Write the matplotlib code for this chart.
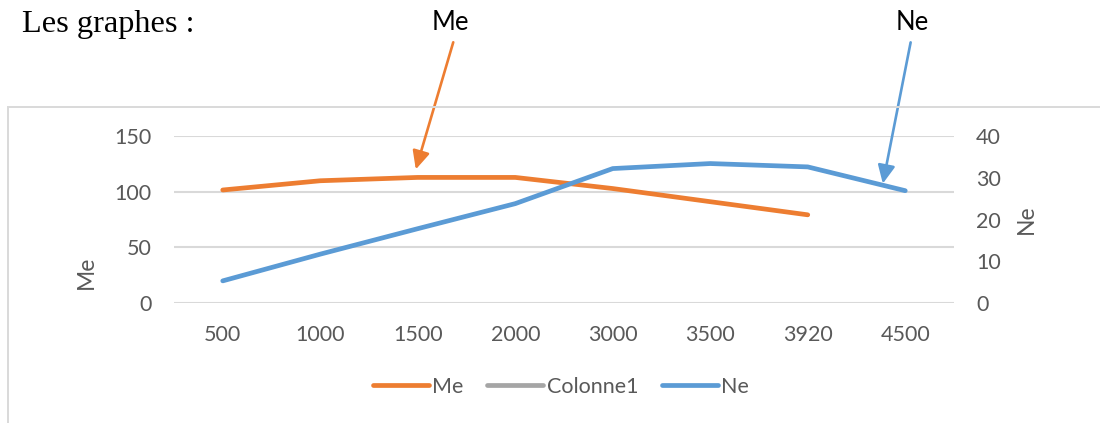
import matplotlib
matplotlib.use('Agg')
import matplotlib.pyplot as plt
from matplotlib.patches import Rectangle
import numpy as np

W, H = 1100, 423

rpm = ['500', '1000', '1500', '2000', '3000', '3500', '3920', '4500']
me = [101.5, 109.8, 112.8, 112.8, 102.8, 91.0, 79.2, np.nan]
ne = [5.3, 11.7, 17.8, 23.8, 32.2, 33.4, 32.6, 26.9]

c_me = '#ED7D31'
c_col = '#A5A5A5'
c_ne = '#5B9BD5'
c_grid = '#D9D9D9'
c_txt = '#595959'
font = 'Lato'
fs_tick = 15.5
fs_title = 16.5


def fx(x):
    return x / W


def fy(y):
    return 1 - y / H


fig = plt.figure(figsize=(W / 100, H / 100), dpi=100)
fig.patch.set_facecolor('white')

# chart frame
fig.add_artist(Rectangle((fx(8), -0.1), 1.2, fy(107) + 0.1, transform=fig.transFigure,
                         fill=False, edgecolor=c_grid, lw=1.4))

fig.text(fx(22), fy(32), 'Les graphes :', family='Liberation Serif', fontsize=23.3,
         va='baseline', ha='left', color='black')

ax = fig.add_axes([fx(174), fy(303), fx(954) - fx(174), fy(136) - fy(303)])
ax2 = ax.twinx()

x = np.arange(len(rpm))
ax.plot(x, me, color=c_me, lw=3.4, solid_capstyle='round', label='Me')
ax.plot([], [], color=c_col, lw=3.4, solid_capstyle='round', label='Colonne1')
ax2.plot(x, ne, color=c_ne, lw=3.4, solid_capstyle='round', label='Ne')

ax.set_xlim(-0.5, len(rpm) - 0.5)
ax.set_ylim(0, 150)
ax.set_yticks([0, 50, 100, 150])
ax2.set_ylim(0, 40)
ax2.set_yticks([0, 10, 20, 30, 40])
ax.set_xticks(x)
ax.set_xticklabels(rpm)

ax.grid(axis='y', color=c_grid, lw=1.5)
ax.set_axisbelow(True)
for a in (ax, ax2):
    for s in a.spines.values():
        s.set_visible(False)
ax.tick_params(axis='both', length=0, labelsize=fs_tick, labelcolor=c_txt)
ax.tick_params(axis='y', pad=16)
ax.tick_params(axis='x', pad=16)
ax2.tick_params(axis='y', length=0, labelsize=fs_tick, labelcolor=c_txt, pad=16)
for lab in ax.get_xticklabels() + ax.get_yticklabels() + ax2.get_yticklabels():
    lab.set_family(font)

fig.text(fx(86), fy(272), 'Me', rotation=90, family=font, fontsize=fs_title,
         color=c_txt, ha='center', va='center')
fig.text(fx(1026), fy(219), 'Ne', rotation=90, family=font, fontsize=fs_title,
         color=c_txt, ha='center', va='center')

# callouts pointing at each curve
head = '-|>,head_length=1.1,head_width=0.52'
ax.annotate('Me', xy=(1.98, 120), xycoords='data',
            xytext=(fx(450), fy(23)), textcoords='figure fraction',
            family=font, fontsize=18.5, ha='center', va='center', color='black',
            arrowprops=dict(arrowstyle=head, color=c_me, lw=1.9, mutation_scale=10,
                            relpos=(0.64, 0.0), shrinkA=3, shrinkB=0))
ax2.annotate('Ne', xy=(6.77, 28.6), xycoords='data',
             xytext=(fx(912), fy(23)), textcoords='figure fraction',
             family=font, fontsize=18.5, ha='center', va='center', color='black',
             arrowprops=dict(arrowstyle=head, color=c_ne, lw=1.9, mutation_scale=10,
                             relpos=(0.5, 0.0), shrinkA=3, shrinkB=0))

h1, l1 = ax.get_legend_handles_labels()
h2, l2 = ax2.get_legend_handles_labels()
fig.legend(h1 + h2, l1 + l2, loc='center', bbox_to_anchor=(fx(561), fy(387)),
           ncol=3, frameon=False, prop={'family': font, 'size': fs_tick},
           handlelength=2.6, handletextpad=0.15, columnspacing=1.1, labelcolor=c_txt)

fig.savefig('out.png', dpi=100, facecolor='white')
